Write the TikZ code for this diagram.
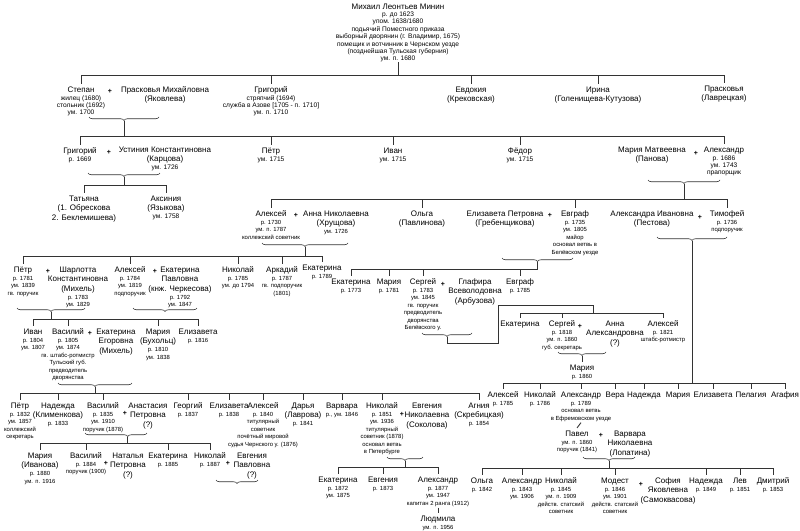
\documentclass[tikz,border=0pt]{standalone}
\usepackage{fontspec}
\setmainfont{Liberation Sans}
\usetikzlibrary{decorations.pathreplacing}
\newcommand\Nm[1]{{\fontsize{8}{9.5}\selectfont\rule{0pt}{7pt}#1}}
\newcommand\Nn[1]{{\fontsize{8}{9.5}\selectfont #1}}
\newcommand\fdA{\fontsize{6.6}{7.4}\selectfont\lineskiplimit=-100pt\relax}
\newcommand\fdB{\fontsize{5.9}{7.5}\selectfont\lineskiplimit=-100pt\relax}
\begin{document}
\begin{tikzpicture}[x=1pt,y=-1pt,
  pp/.style={align=center,inner sep=0pt,anchor=north,yshift=4.1pt,font=\fdB},
  pq/.style={align=center,inner sep=0pt,anchor=north,yshift=4.1pt,font=\fdA},
  pl/.style={inner sep=0pt,font=\fontsize{7}{7}\selectfont\bfseries},
  ln/.style={draw=black!80,line width=0.9pt},
  br/.style={draw=black!80,line width=0.6pt,decorate,decoration={brace,mirror,amplitude=3.5pt}},
]
\useasboundingbox[fill=white] (0,0) rectangle (800,530);

% ---------- generation 0
\node[pq] (mm) at (398,6) {\Nm{Михаил Леонтьев Минин}\\р. до 1623\\упом. 1638/1680\\подьячий Поместного приказа\\выборный дворянин (г. Владимир, 1675)\\помещик и вотчинник в Чернском уезде\\(позднейшая Тульская губерния)\\ум. п. 1680};

% ---------- generation 1
\node[pq] (st) at (81,89) {\Nm{Степан}\\[0.6pt]жилец (1680)\\стольник (1692)\\ум. 1700};
\node[pl] (p1) at (110,91) {+};
\node[pq] (pm) at (165,89) {\Nm{Прасковья Михайловна}\\[2.1pt]\Nn{(Яковлева)}};
\node[pq] (gr1) at (271,89) {\Nm{Григорий}\\[0.6pt]стряпчий (1694)\\служба в Азове [1705 - п. 1710]\\ум. п. 1710};
\node[pq] (ev) at (471,89) {\Nm{Евдокия}\\[2.1pt]\Nn{(Крековская)}};
\node[pq] (ir) at (598,89) {\Nm{Ирина}\\[2.1pt]\Nn{(Голенищева-Кутузова)}};
\node[pq] (pr) at (724,88) {\Nm{Прасковья}\\[2.1pt]\Nn{(Лаврецкая)}};

% ---------- generation 2
\node[pq] (gr2) at (80,150) {\Nm{Григорий}\\[0.6pt]р. 1669};
\node[pl] (p2) at (109,152) {+};
\node[pq] (us) at (165,149) {\Nm{Устиния Константиновна}\\[2.1pt]\Nn{(Карцова)}\\[0.6pt]ум. 1726};
\node[pq] (pe) at (271,150) {\Nm{Пётр}\\[0.6pt]ум. 1715};
\node[pq] (iv) at (393,150) {\Nm{Иван}\\[0.6pt]ум. 1715};
\node[pq] (fe) at (520,150) {\Nm{Фёдор}\\[0.6pt]ум. 1715};
\node[pq] (mp) at (652,149) {\Nm{Мария Матвеевна}\\[2.1pt]\Nn{(Панова)}};
\node[pl] (p3) at (696,153) {+};
\node[pq] (al1) at (724,149) {\Nm{Александр}\\[0.6pt]р. 1686\\ум. 1743\\прапорщик};

\node[pq] (ta) at (84,198) {\Nm{Татьяна}\\[2.1pt]\Nn{(1. Обрескова}\\[2.1pt]\Nn{2. Беклемишева)}};
\node[pq] (ak) at (166,198) {\Nm{Аксиния}\\[2.1pt]\Nn{(Языкова)}\\[0.6pt]ум. 1758};

% ---------- generation 3
\node[pp] (al2) at (271,213) {\Nm{Алексей}\\[0.6pt]р. 1730\\ум. п. 1787\\коллежский советник};
\node[pl] (p4) at (296,215) {+};
\node[pp] (an) at (336,213) {\Nm{Анна Николаевна}\\[2.1pt]\Nn{(Хрущова)}\\[0.6pt]ум. 1726};
\node[pp] (ol) at (422,213) {\Nm{Ольга}\\[2.1pt]\Nn{(Павлинова)}};
\node[pp] (el) at (505,213) {\Nm{Елизавета Петровна}\\[2.1pt]\Nn{(Гребенщикова)}};
\node[pl] (p5) at (550,215) {+};
\node[pp] (eg1) at (575,213) {\Nm{Евграф}\\[0.6pt]р. 1735\\ум. 1805\\майор\\основал ветвь в\\Белёвском уезде};
\node[pp] (aiv) at (652,213) {\Nm{Александра Ивановна}\\[2.1pt]\Nn{(Пестова)}};
\node[pl] (p6) at (700,217) {+};
\node[pp] (ti) at (727,213) {\Nm{Тимофей}\\[0.6pt]р. 1736\\подпоручик};

% ---------- generation 4
\node[pp] (pe2) at (23,269) {\Nm{Пётр}\\[0.6pt]р. 1781\\ум. 1839\\гв. поручик};
\node[pl] (p7) at (48,271) {+};
\node[pp] (sh) at (78,269) {\Nm{Шарлотта}\\[2.1pt]\Nn{Константиновна}\\[2.1pt]\Nn{(Михель)}\\[0.6pt]р. 1783\\ум. 1829};
\node[pp] (al3) at (130,269) {\Nm{Алексей}\\[0.6pt]р. 1784\\ум. 1819\\подпоручик};
\node[pl] (p8) at (155,271) {+};
\node[pp] (ek1) at (180,269) {\Nm{Екатерина}\\[2.1pt]\Nn{Павловна}\\[2.1pt]\Nn{(кнж. Черкесова)}\\[0.6pt]р. 1792\\ум. 1847};
\node[pp] (ni1) at (238,269) {\Nm{Николай}\\[0.6pt]р. 1785\\ум. до 1794};
\node[pp] (ar) at (282,269) {\Nm{Аркадий}\\[0.6pt]р. 1787\\гв. подпоручик\\(1801)};
\node[pp] (ek2) at (322,267) {\Nm{Екатерина}\\[0.6pt]р. 1789};

\node[pp] (ek3) at (351,281) {\Nm{Екатерина}\\[0.6pt]р. 1773};
\node[pp] (ma1) at (389,281) {\Nm{Мария}\\[0.6pt]р. 1781};
\node[pp] (se1) at (423,281) {\Nm{Сергей}\\[0.6pt]р. 1783\\ум. 1845\\гв. поручик\\предводитель\\дворянства\\Белёвского у.};
\node[pl] (p9) at (443,284) {+};
\node[pp] (gl) at (475,281) {\Nm{Глафира}\\[2.1pt]\Nn{Всеволодовна}\\[2.1pt]\Nn{(Арбузова)}};
\node[pp] (eg2) at (520,281) {\Nm{Евграф}\\[0.6pt]р. 1785};

% ---------- generation 5
\node[pp] (iv2) at (33,331) {\Nm{Иван}\\[0.6pt]р. 1804\\ум. 1807};
\node[pp] (va1) at (68,331) {\Nm{Василий}\\[0.6pt]р. 1805\\ум. 1874\\гв. штабс-ротмистр\\Тульский губ.\\предводитель\\дворянства};
\node[pl] (p10) at (90,333) {+};
\node[pp] (ek5) at (116,331) {\Nm{Екатерина}\\[2.1pt]\Nn{Егоровна}\\[2.1pt]\Nn{(Михель)}};
\node[pp] (ma3) at (158,331) {\Nm{Мария}\\[2.1pt]\Nn{(Бухольц)}\\[0.6pt]р. 1810\\ум. 1838};
\node[pp] (el2) at (198,331) {\Nm{Елизавета}\\[0.6pt]р. 1816};

\node[pp] (ek4) at (520,323) {\Nm{Екатерина}};
\node[pp] (se2) at (562,323) {\Nm{Сергей}\\[0.6pt]р. 1818\\ум. п. 1860\\губ. секретарь};
\node[pl] (p11) at (580,326) {+};
\node[pp] (ann) at (615,323) {\Nm{Анна}\\[2.1pt]\Nn{Александровна}\\[2.1pt]\Nn{(?)}};
\node[pp] (al4) at (663,323) {\Nm{Алексей}\\[0.6pt]р. 1821\\штабс-ротмистр};
\node[pp] (ma2) at (582,367) {\Nm{Мария}\\[0.6pt]р. 1860};

\node[pp] (al7) at (503,394) {\Nm{Алексей}\\[0.6pt]р. 1785};
\node[pp] (ni4) at (540,394) {\Nm{Николай}\\[0.6pt]р. 1786};
\node[pp] (al8) at (581,394) {\Nm{Александр}\\[0.6pt]р. 1789\\основал ветвь\\в Ефремовском уезде};
\node[pp] (ve) at (615,394) {\Nm{Вера}};
\node[pp] (na2) at (644,394) {\Nm{Надежда}};
\node[pp] (ma5) at (678,394) {\Nm{Мария}};
\node[pp] (el4) at (713,394) {\Nm{Елизавета}};
\node[pp] (pl) at (751,394) {\Nm{Пелагия}};
\node[pp] (aga) at (785,394) {\Nm{Агафия}};

% ---------- generation 6
\node[pp] (pe3) at (20,405) {\Nm{Пётр}\\[0.6pt]р. 1832\\ум. 1857\\коллежский\\секретарь};
\node[pp] (na1) at (58,405) {\Nm{Надежда}\\[2.1pt]\Nn{(Клименкова)}\\[0.6pt]р. 1833};
\node[pp] (va2) at (103,405) {\Nm{Василий}\\[0.6pt]р. 1835\\ум. 1910\\поручик (1878)};
\node[pl] (p12) at (125,413) {+};
\node[pp] (anp) at (148,405) {\Nm{Анастасия}\\[2.1pt]\Nn{Петровна}\\[2.1pt]\Nn{(?)}};
\node[pp] (ge) at (188,405) {\Nm{Георгий}\\[0.6pt]р. 1837};
\node[pp] (el3) at (229,405) {\Nm{Елизавета}\\[0.6pt]р. 1838};
\node[pp] (al5) at (263,405) {\Nm{Алексей}\\[0.6pt]р. 1840\\титулярный\\советник\\почётный мировой\\судья Чернского у. (1876)};
\node[pp] (da) at (303,405) {\Nm{Дарья}\\[2.1pt]\Nn{(Лаврова)}\\[0.6pt]р. 1841};
\node[pp] (vr) at (342,405) {\Nm{Варвара}\\[0.6pt]р., ум. 1846};
\node[pp] (ni2) at (382,405) {\Nm{Николай}\\[0.6pt]р. 1851\\ум. 1936\\титулярный\\советник (1878)\\основал ветвь\\в Петербурге};
\node[pl] (p13) at (402,414) {+};
\node[pp] (evs) at (427,405) {\Nm{Евгения}\\[2.1pt]\Nn{Николаевна}\\[2.1pt]\Nn{(Соколова)}};
\node[pp] (ag) at (479,405) {\Nm{Агния}\\[2.1pt]\Nn{(Скребицкая)}\\[0.6pt]р. 1854};

\node[pp] (pa) at (577,433) {\Nm{Павел}\\[0.6pt]ум. п. 1860\\поручик (1841)};
\node[pl] (p14) at (601,435) {+};
\node[pp] (vn) at (630,433) {\Nm{Варвара}\\[2.1pt]\Nn{Николаевна}\\[2.1pt]\Nn{(Лопатина)}};

% ---------- generation 7
\node[pp] (ma4) at (40,455) {\Nm{Мария}\\[2.1pt]\Nn{(Иванова)}\\[0.6pt]р. 1880\\ум. п. 1916};
\node[pp] (va3) at (86,455) {\Nm{Василий}\\[0.6pt]р. 1884\\поручик (1900)};
\node[pl] (p15) at (106,463) {+};
\node[pp] (nat) at (128,455) {\Nm{Наталья}\\[2.1pt]\Nn{Петровна}\\[2.1pt]\Nn{(?)}};
\node[pp] (ek6) at (168,455) {\Nm{Екатерина}\\[0.6pt]р. 1885};
\node[pp] (ni3) at (210,455) {\Nm{Николай}\\[0.6pt]р. 1887};
\node[pl] (p16) at (228,463) {+};
\node[pp] (evp) at (252,455) {\Nm{Евгения}\\[2.1pt]\Nn{Павловна}\\[2.1pt]\Nn{(?)}};

\node[pp] (ek7) at (338,479) {\Nm{Екатерина}\\[0.6pt]р. 1872\\ум. 1875};
\node[pp] (ev2) at (383,479) {\Nm{Евгения}\\[0.6pt]р. 1873};
\node[pp] (al6) at (438,479) {\Nm{Александр}\\[0.6pt]р. 1877\\ум. 1947\\капитан 2 ранга (1912)};
\node[pp] (lu) at (438,518) {\Nm{Людмила}\\[0.6pt]ум. п. 1956};

\node[pp] (ol2) at (482,480) {\Nm{Ольга}\\[0.6pt]р. 1842};
\node[pp] (al9) at (522,480) {\Nm{Александр}\\[0.6pt]р. 1843\\ум. 1906};
\node[pp] (ni5) at (561,480) {\Nm{Николай}\\[0.6pt]р. 1845\\ум. п. 1909\\действ. статский\\советник};
\node[pp] (mo) at (615,480) {\Nm{Модест}\\[0.6pt]р. 1846\\ум. 1901\\действ. статский\\советник};
\node[pl] (p17) at (641,484) {+};
\node[pp] (so) at (668,480) {\Nm{София}\\[2.1pt]\Nn{Яковлевна}\\[2.1pt]\Nn{(Самоквасова)}};
\node[pp] (na3) at (706,480) {\Nm{Надежда}\\[0.6pt]р. 1849};
\node[pp] (le) at (740,480) {\Nm{Лев}\\[0.6pt]р. 1851};
\node[pp] (dm) at (773,480) {\Nm{Дмитрий}\\[0.6pt]р. 1853};

% ================= connectors
% children of Михаил
\draw[ln] (mm.south) -- (mm.south |- 0,75);
\draw[ln] (st.north |- 0,75) -- (pr.north |- 0,75);
\foreach \n in {st,gr1,ev,ir,pr} \draw[ln] (\n.north |- 0,75) -- ([yshift=1pt]\n.north);

% Степан + Прасковья
\draw[br] (89,117) -- (159,117);
\coordinate (t1) at (124,120.5);
\draw[ln] (t1) -- (t1 |- 0,136);
\draw[ln] (gr2.north |- 0,136) -- (al1.north |- 0,136);
\foreach \n in {gr2,pe,iv,fe,al1} \draw[ln] (\n.north |- 0,136) -- ([yshift=1pt]\n.north);

% Григорий + Устиния
\draw[br] (88,173) -- (160,173);
\coordinate (t2) at (124,176.5);
\draw[ln] (t2) -- (t2 |- 0,185);
\draw[ln] (ta.north |- 0,185) -- (ak.north |- 0,185);
\foreach \n in {ta,ak} \draw[ln] (\n.north |- 0,185) -- ([yshift=1pt]\n.north);

% Мария + Александр
\draw[br] (648,180) -- (720,180);
\coordinate (t3) at (684,183.5);
\draw[ln] (t3) -- (t3 |- 0,199);
\draw[ln] (al2.north |- 0,199) -- (ti.north |- 0,199);
\foreach \n in {al2,ol,eg1,ti} \draw[ln] (\n.north |- 0,199) -- ([yshift=1pt]\n.north);

% Алексей + Анна
\draw[br] (262,243) -- (348,243);
\coordinate (t4) at (305,246.5);
\draw[ln] (t4) -- (t4 |- 0,256);
\draw[ln] (pe2.north |- 0,256) -- (ek2.north |- 0,256);
\foreach \n in {pe2,al3,ni1,ar,ek2} \draw[ln] (\n.north |- 0,256) -- ([yshift=1pt]\n.north);

% Пётр + Шарлотта
\draw[br] (17,308) -- (85,308);
\coordinate (t5) at (51,311.5);
\draw[ln] (t5) -- (t5 |- 0,319);
\draw[ln] (iv2.north |- 0,319) -- (el2.north |- 0,319);
\foreach \n in {iv2,va1,ma3,el2} \draw[ln] (\n.north |- 0,319) -- ([yshift=1pt]\n.north);

% Алексей + Екатерина
\draw[br] (133,308) -- (197,308);

% Елизавета + Евграф
\draw[br] (502,258) -- (573,258);
\coordinate (t6) at (537.5,261.5);
\draw[ln] (t6) -- (t6 |- 0,269) -- (ek3.north |- 0,269);
\foreach \n in {ek3,ma1,se1,eg2} \draw[ln] (\n.north |- 0,269) -- ([yshift=1pt]\n.north);

% Сергей + Глафира
\draw[br] (422,333) -- (472,333);
\coordinate (t7) at (447,336.5);
\coordinate (j1) at (498,343);
\coordinate (j2) at (593,305);
\draw[ln] (t7) |- (j1) -- (j1 |- j2) -- (j2) -- (j2 |- 0,313);
\draw[ln] (ek4.north |- 0,313) -- (al4.north |- 0,313);
\foreach \n in {ek4,se2,al4} \draw[ln] (\n.north |- 0,313) -- ([yshift=1pt]\n.north);

% Сергей + Анна
\draw[br] (558,352) -- (606,352);
\coordinate (t8) at (582,355.5);
\draw[ln] (t8) -- ([yshift=1pt]ma2.north);

% Александра + Тимофей
\draw[br] (657,237) -- (727,237);
\coordinate (t9) at (692,240.5);
\draw[ln] (t9) -- (t9 |- 0,383);
\draw[ln] (al7.north |- 0,383) -- (aga.north |- 0,383);
\foreach \n in {al7,ni4,al8,ve,na2,ma5,el4,pl,aga} \draw[ln] (\n.north |- 0,383) -- ([yshift=1pt]\n.north);

\draw[ln] ([yshift=-1pt]al8.south) -- ([yshift=1pt]pa.north);

% Павел + Варвара
\draw[br] (583,457) -- (635,457);
\coordinate (t10) at (609,460.5);
\draw[ln] (t10) -- (t10 |- 0,468);
\draw[ln] (ol2.north |- 0,468) -- (dm.north |- 0,468);
\foreach \n in {ol2,al9,ni5,mo,na3,le,dm} \draw[ln] (\n.north |- 0,468) -- ([yshift=1pt]\n.north);

% Василий + Екатерина
\draw[br] (58,383) -- (132,383);
\coordinate (t11) at (95,386.5);
\draw[ln] (t11) -- (t11 |- 0,393);
\draw[ln] (pe3.north |- 0,393) -- (ag.north |- 0,393);
\foreach \n in {pe3,na1,va2,ge,el3,al5,da,vr,ni2,ag} \draw[ln] (\n.north |- 0,393) -- ([yshift=1pt]\n.north);

% Василий + Анастасия
\draw[br] (85,433) -- (147,433) [decoration={aspect=0.69}];
\coordinate (t12) at (127.8,436.5);
\draw[ln] (t12) -- (t12 |- 0,443);
\draw[ln] (ma4.north |- 0,443) -- (ni3.north |- 0,443);
\foreach \n in {ma4,va3,ek6,ni3} \draw[ln] (\n.north |- 0,443) -- ([yshift=1pt]\n.north);

% Николай + Евгения
\draw[br] (216,480) -- (258,480);

% Николай + Евгения (Соколова)
\draw[br] (387,457) -- (423,457);
\coordinate (t13) at (405,460.5);
\draw[ln] (t13) -- (t13 |- 0,467);
\draw[ln] (ek7.north |- 0,467) -- (al6.north |- 0,467);
\foreach \n in {ek7,ev2,al6} \draw[ln] (\n.north |- 0,467) -- ([yshift=1pt]\n.north);
\draw[ln] ([yshift=-1pt]al6.south) -- ([yshift=1pt]lu.north);

\end{tikzpicture}
\end{document}
